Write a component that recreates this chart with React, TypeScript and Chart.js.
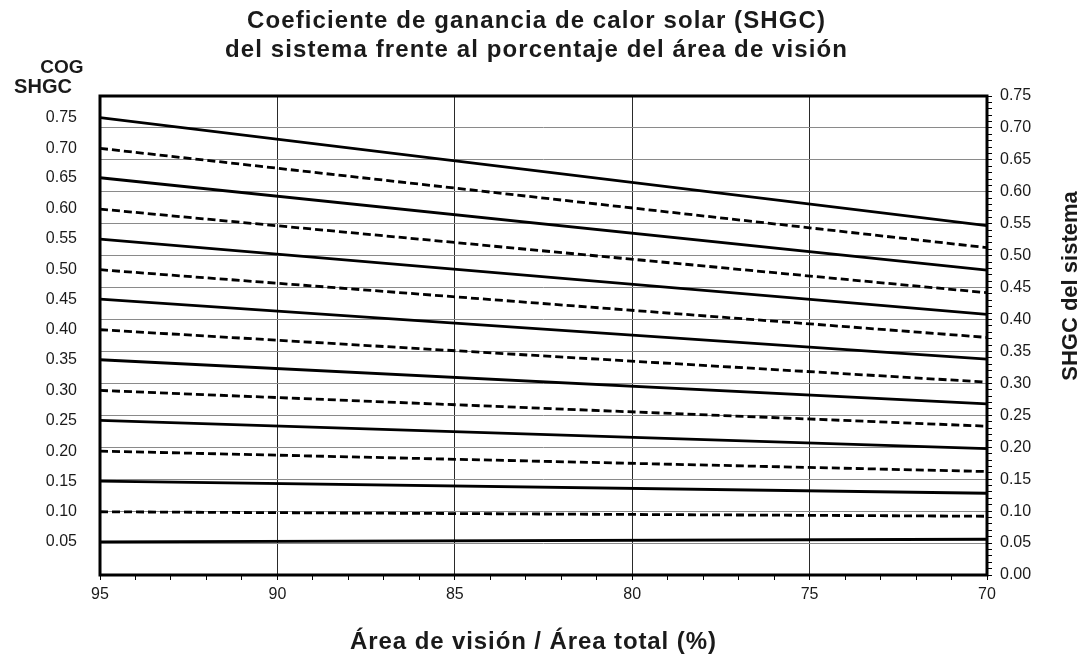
import React, { useEffect, useRef } from 'react';
import { Chart, registerables } from 'chart.js';

Chart.register(...registerables);

// ---- data ----
const cogLabels = ['0.75', '0.70', '0.65', '0.60', '0.55', '0.50', '0.45', '0.40', '0.35', '0.30', '0.25', '0.20', '0.15', '0.10', '0.05'];
const xStart = 95;
const xEnd = 70;
const shgcAt95 = [0.716, 0.668, 0.622, 0.573, 0.526, 0.478, 0.432, 0.384, 0.337, 0.289, 0.242, 0.194, 0.147, 0.099, 0.052];
const shgcAt70 = [0.547, 0.5125, 0.4775, 0.442, 0.408, 0.372, 0.338, 0.302, 0.268, 0.233, 0.198, 0.162, 0.128, 0.092, 0.056];
const titleLines = ['Coeficiente de ganancia de calor solar (SHGC)', 'del sistema frente al porcentaje del área de visión'];
const xTitle = 'Área de visión / Área total (%)';
const rightTitle = 'SHGC del sistema';
const leftTitle = ['COG', 'SHGC'];

const FONT = '"Liberation Sans", Arial, Helvetica, sans-serif';
const TEXT = '#1a1a1a';

function spacedText(ctx: any, text: string, cx: number, y: number, spacing: number) {
  ctx.letterSpacing = `${spacing}px`;
  const w = ctx.measureText(text).width - spacing;
  ctx.textAlign = 'left';
  ctx.fillText(text, cx - w / 2, y);
  ctx.letterSpacing = '0px';
}

const textPlugin = {
  id: 'extraTexts',
  afterDraw(chart: any) {
    const ctx = chart.ctx as any;
    const a = chart.chartArea;
    ctx.save();
    ctx.strokeStyle = '#000';
    ctx.lineWidth = 3;
    ctx.strokeRect(a.left, a.top, a.right - a.left, a.bottom - a.top);

    ctx.fillStyle = TEXT;
    ctx.textBaseline = 'alphabetic';
    ctx.font = `bold 24px ${FONT}`;
    spacedText(ctx, titleLines[0], 536, 28, 1.1);
    spacedText(ctx, titleLines[1], 536, 57, 1.1);

    ctx.font = `bold 24px ${FONT}`;
    spacedText(ctx, xTitle, 533, 649, 0.9);

    ctx.textAlign = 'center';
    ctx.font = `bold 19px ${FONT}`;
    ctx.fillText(leftTitle[0], 62, 73);
    ctx.font = `bold 20px ${FONT}`;
    ctx.fillText(leftTitle[1], 43, 93);

    ctx.save();
    ctx.translate(1077, 286);
    ctx.rotate(-Math.PI / 2);
    ctx.textAlign = 'center';
    ctx.font = `bold 22px ${FONT}`;
    ctx.fillText(rightTitle, 0, 0);
    ctx.restore();
    ctx.restore();
  },
};

export default function App() {
  const ref = useRef<HTMLCanvasElement | null>(null);

  useEffect(() => {
    if (!ref.current) return;
    const datasets = cogLabels.map((lab, i) => ({
      label: lab,
      data: [
        { x: xStart, y: shgcAt95[i] },
        { x: xEnd, y: shgcAt70[i] },
      ],
      borderColor: '#000',
      borderWidth: 2.8,
      borderDash: i % 2 === 1 ? [8, 4] : [],
      pointRadius: 0,
      fill: false,
      tension: 0,
      xAxisID: 'x',
      yAxisID: 'y',
    }));

    const chart = new Chart(ref.current, {
      type: 'line',
      data: { datasets },
      plugins: [textPlugin],
      options: {
        animation: false,
        responsive: false,
        maintainAspectRatio: false,
        layout: { padding: { top: 96, left: 0, right: 0, bottom: 0 } },
        plugins: { legend: { display: false }, tooltip: { enabled: false }, title: { display: false } },
        scales: {
          x: {
            type: 'linear',
            position: 'bottom',
            reverse: true,
            min: xEnd,
            max: xStart,
            border: { display: false },
            grid: {
              color: (c: any) => {
                const v = c.tick ? c.tick.value : 0;
                return v % 5 === 0 && v !== xStart && v !== xEnd ? '#2a2a2a' : 'rgba(0,0,0,0)';
              },
              tickColor: '#000',
              tickLength: 5,
              lineWidth: 1,
            },
            ticks: {
              stepSize: 1,
              autoSkip: false,
              maxRotation: 0,
              padding: 5,
              color: TEXT,
              font: { family: FONT, size: 16 },
              callback: (v: any) => (Number(v) % 5 === 0 ? String(v) : ''),
            },
            title: { display: false },
            afterFit: (s: any) => { s.height = 90; },
          },
          yL: {
            type: 'linear',
            position: 'left',
            min: 0,
            max: 0.75,
            border: { display: false },
            grid: { display: false, drawTicks: false },
            afterBuildTicks: (s: any) => { s.ticks = shgcAt95.map((v) => ({ value: v })); },
            ticks: {
              autoSkip: false,
              padding: 23,
              color: TEXT,
              font: { family: FONT, size: 16 },
              callback: (_v: any, i: number) => cogLabels[i],
            },
            afterFit: (s: any) => { s.width = 100; },
          },
          y: {
            type: 'linear',
            position: 'right',
            min: 0,
            max: 0.75,
            border: { display: false },
            grid: {
              color: (c: any) => {
                const n = c.tick ? Math.round(c.tick.value * 100) : 1;
                return n % 5 === 0 && n !== 0 && n !== 75 ? '#8a8a8a' : 'rgba(0,0,0,0)';
              },
              tickColor: '#000',
              tickLength: 5,
              lineWidth: 1,
            },
            ticks: {
              stepSize: 0.01,
              autoSkip: false,
              padding: 8,
              color: TEXT,
              font: { family: FONT, size: 16 },
              callback: (v: any) => {
                const n = Math.round(Number(v) * 100);
                return n % 5 === 0 ? (n / 100).toFixed(2) : '';
              },
            },
            afterFit: (s: any) => { s.width = 96; },
          },
        },
      },
    });
    return () => chart.destroy();
  }, []);

  return (
    <div style={{ position: 'absolute', left: 0, top: 0, width: 1083, height: 665, background: '#fff' }}>
      <canvas ref={ref} width={1083} height={665} style={{ display: 'block' }} />
    </div>
  );
}
